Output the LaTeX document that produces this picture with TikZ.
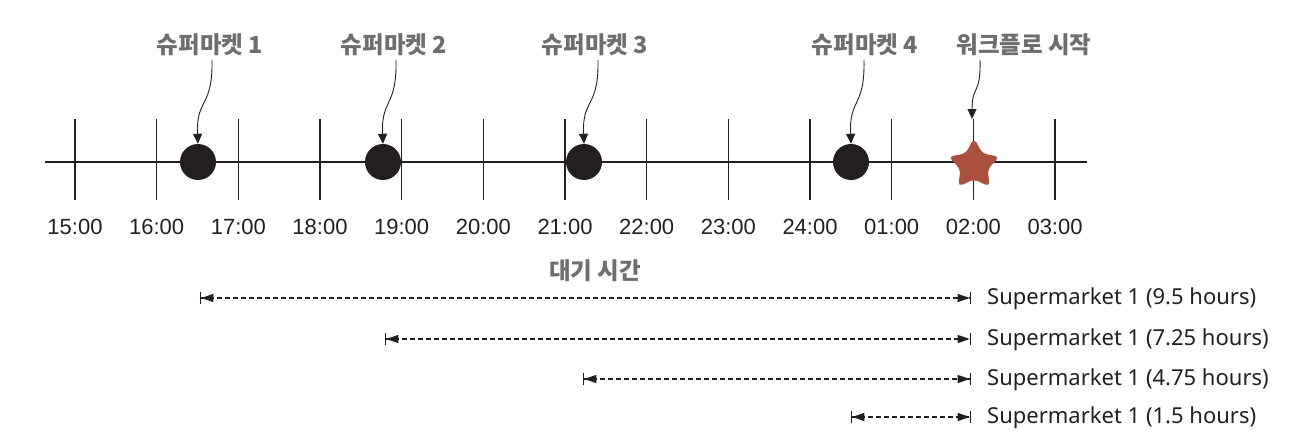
\documentclass[tikz,border=0pt]{standalone}
\usepackage{fontspec}
\setmainfont{Liberation Sans}
\newfontfamily\kr{Noto Sans CJK KR}
\newfontfamily\nsans{Noto Sans}
\usetikzlibrary{arrows.meta,shapes.geometric}
\definecolor{ink}{HTML}{231F20}
\definecolor{lbl}{HTML}{6E6E6E}
\definecolor{starred}{HTML}{A9503F}
\tikzset{
  tick/.style={draw=ink, line width=1.3pt},
  timelbl/.style={font=\fontsize{22}{22}\selectfont, text=ink, inner sep=0pt},
  krlbl/.style={font=\kr\bfseries\fontsize{23.5}{23.5}\selectfont, text=lbl, inner sep=0pt},
  event/.style={circle, fill=ink, minimum size=36pt, inner sep=0pt},
  pointer/.style={draw=ink, line width=0.9pt, -{Triangle[length=10pt,width=9pt]}},
  span/.style={draw=ink, line width=1.1pt, dash pattern=on 5pt off 3pt,
    {Bar[width=12pt,line width=1.3pt]Triangle[length=12pt,width=8pt,sep=0pt]}-{Triangle[length=12pt,width=8pt,sep=0pt]Bar[width=12pt,line width=1.3pt]}},
  spanlbl/.style={font=\nsans\fontsize{22}{22}\selectfont, text=ink, inner sep=0pt, anchor=west},
}
\begin{document}
\begin{tikzpicture}[x=1pt,y=-1pt]
\useasboundingbox (0,0) rectangle (1298,444);
% axis
\coordinate (axL) at (45,162);
\coordinate (axR) at (1087,162);
\draw[tick] (axL) -- (axR);
% ticks and labels
\foreach \i/\t in {0/15:00,1/16:00,2/17:00,3/18:00,4/19:00,5/20:00,6/21:00,7/22:00,8/23:00,9/24:00,10/01:00,11/02:00,12/03:00}{
  \coordinate (tt\i) at ({75+81.67*\i},119);
  \coordinate (tb\i) at ({75+81.67*\i},200);
  \draw[tick] (tt\i) -- (tb\i);
  \node[timelbl] (tl\i) at ({75+81.67*\i},227) {\t};
}
% events
\node[event] (e1) at (198,162) {};
\node[event] (e2) at (383,162) {};
\node[event] (e3) at (584,162) {};
\node[event] (e4) at (851,162) {};
\node[star, star points=5, star point ratio=1.9, minimum size=54pt, inner sep=0pt,
      fill=starred, rounded corners=5pt] (st) at (974,165) {};
% labels
\node[krlbl] (k1) at (210,45) {슈퍼마켓 1};
\node[krlbl] (k2) at (394,45) {슈퍼마켓 2};
\node[krlbl] (k3) at (595,45) {슈퍼마켓 3};
\node[krlbl] (k4) at (865,45) {슈퍼마켓 4};
\node[krlbl] (k5) at (1024,45) {워크플로 시작};
% pointers
\draw[pointer] (212,60) .. controls (213,108) and (196,98) .. (e1.north);
\draw[pointer] (396,60) .. controls (397,108) and (381,98) .. (e2.north);
\draw[pointer] (598,60) .. controls (599,108) and (582,98) .. (e3.north);
\draw[pointer] (864,60) .. controls (865,108) and (849,98) .. (e4.north);
\draw[pointer] (980,60) .. controls (981,95) and (972,85) .. (972,119);
% waiting time
\node[krlbl] (wait) at (595,271) {대기 시간};
\coordinate (s1a) at (200,298); \coordinate (s1b) at (971,298);
\coordinate (s2a) at (385,339); \coordinate (s2b) at (971,339);
\coordinate (s3a) at (583,379); \coordinate (s3b) at (971,379);
\coordinate (s4a) at (851,417); \coordinate (s4b) at (971,417);
\draw[span] (s1a) -- (s1b);
\draw[span] (s2a) -- (s2b);
\draw[span] (s3a) -- (s3b);
\draw[span] (s4a) -- (s4b);
\node[spanlbl] (l1) at (987,299) {Supermarket 1 (9.5 hours)};
\node[spanlbl] (l2) at (987,340) {Supermarket 1 (7.25 hours)};
\node[spanlbl] (l3) at (987,380) {Supermarket 1 (4.75 hours)};
\node[spanlbl] (l4) at (987,418) {Supermarket 1 (1.5 hours)};
\end{tikzpicture}
\end{document}
